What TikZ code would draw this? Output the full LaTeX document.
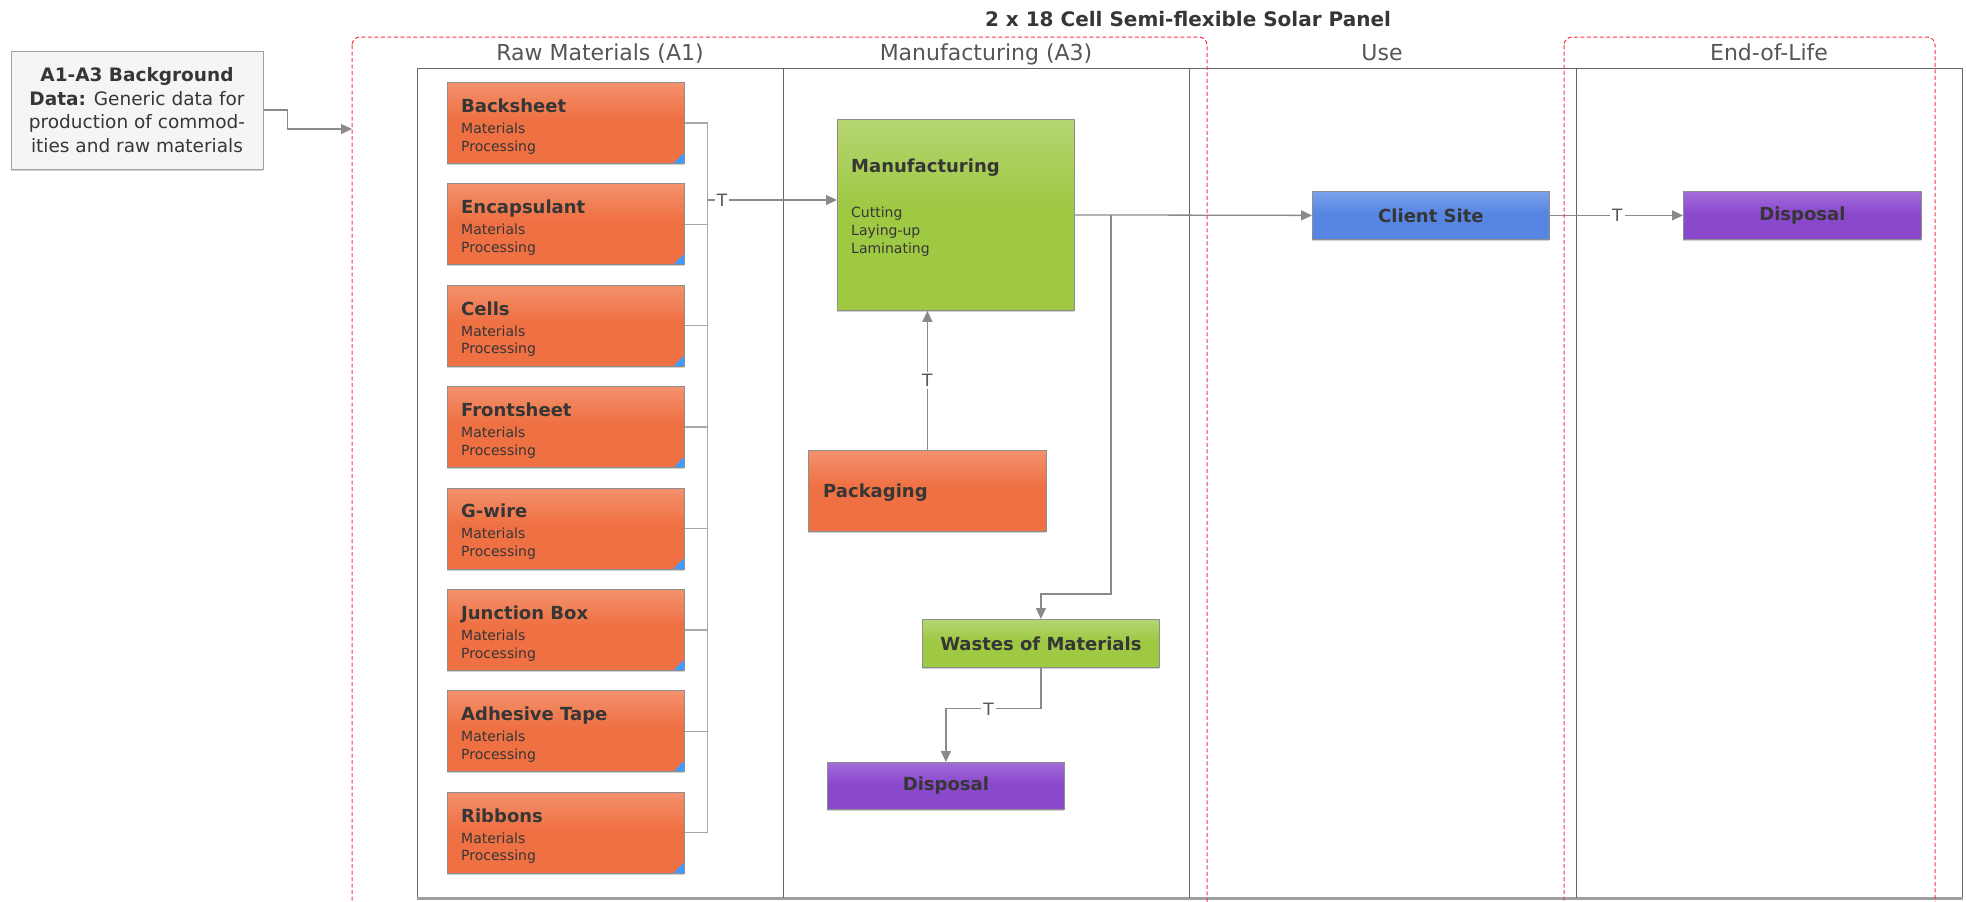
\documentclass[tikz,border=0pt]{standalone}
\usepackage{fontspec}
\setmainfont{DejaVu Sans}
\usetikzlibrary{arrows.meta,calc,shadows}
\newcommand\myfs[2]{\fontsize{#1}{#2}\selectfont}
\definecolor{textdark}{HTML}{363636}
\definecolor{lanegray}{HTML}{555555}
\definecolor{framecol}{HTML}{666666}
\definecolor{conncol}{HTML}{8A8A8A}
\definecolor{busgray}{HTML}{A8A8A8}
\definecolor{boxborder}{HTML}{8E8E8E}
\definecolor{orgmain}{HTML}{EF7042}
\definecolor{orglight}{HTML}{F7B59C}
\definecolor{grnmain}{HTML}{9FC843}
\definecolor{grnlight}{HTML}{CDE4A3}
\definecolor{blumain}{HTML}{5685E3}
\definecolor{blulight}{HTML}{A5C0F3}
\definecolor{purmain}{HTML}{8A48CD}
\definecolor{purlight}{HTML}{BE93E6}
\definecolor{cornerblue}{HTML}{3D9CFF}
\definecolor{reddash}{HTML}{FF3348}
\definecolor{bgfill}{HTML}{F5F5F5}
\definecolor{bgborder}{HTML}{A0A0A0}
\pgfdeclareverticalshading{orgshade}{100bp}{color(0bp)=(orgmain); color(52bp)=(orgmain); color(100bp)=(orglight)}
\pgfdeclareverticalshading{grnshade}{100bp}{color(0bp)=(grnmain); color(52bp)=(grnmain); color(100bp)=(grnlight)}
\pgfdeclareverticalshading{blushade}{100bp}{color(0bp)=(blumain); color(52bp)=(blumain); color(100bp)=(blulight)}
\pgfdeclareverticalshading{purshade}{100bp}{color(0bp)=(purmain); color(52bp)=(purmain); color(100bp)=(purlight)}
\tikzset{
  softshadow/.style={drop shadow={shadow xshift=0pt, shadow yshift=-1.6pt, fill=black, opacity=0.18}},
  gradbox/.style={anchor=north west, draw=boxborder, line width=0.8pt, shade, shading=#1, inner sep=0pt, softshadow},
  rawbox/.style={anchor=north west, minimum width=237pt, minimum height=81pt, draw=boxborder, line width=0.8pt, shade, shading=orgshade, inner sep=0pt, softshadow,
    path picture={\fill[cornerblue] (path picture bounding box.south east) -- ++(-11pt,0pt) -- ++(11pt,11pt) -- cycle;}},
  boxtitle/.style={font=\myfs{18}{22}\bfseries, text=textdark, inner sep=0pt},
  subtext/.style={font=\myfs{14}{18}, text=textdark, inner sep=0pt},
  lanelabel/.style={font=\myfs{22}{26}, text=lanegray, inner sep=0pt, anchor=base},
  framel/.style={draw=framecol, line width=1pt},
  reddashed/.style={draw=reddash, line width=1pt, dash pattern=on 4pt off 2.5pt, rounded corners=8pt},
  conn/.style={draw=conncol, line width=1.3pt},
  busline/.style={draw=busgray, line width=1.3pt},
  arr/.style={conn, -{Triangle[length=11pt,width=10pt]}},
  tlabel/.style={fill=white, text=lanegray, font=\myfs{17}{20}, inner sep=2pt},
  bgbox/.style={draw=bgborder, fill=bgfill, line width=1pt, minimum width=252pt, minimum height=118pt, align=center, font=\myfs{18.5}{23.5}, text=textdark, inner sep=0pt, softshadow}
}
\begin{document}
\begin{tikzpicture}[x=1pt,y=-1pt]
\useasboundingbox (0,0) rectangle (1966,902);
\clip (0,0) rectangle (1966,902);

% title
\node[font=\myfs{20}{24}\bfseries, text=textdark, inner sep=0pt, anchor=base] (title) at (1188,27) {2 x 18 Cell Semi-flexible Solar Panel};

% lanes
\draw[framel] (417,68) rectangle (1962,898);
\draw[draw=gray!75, line width=2.5pt] (417,898.5) -- (1963,898.5);
\foreach \x in {783,1189,1576} \draw[framel] (\x,68) -- (\x,898);
\node[lanelabel] (h1) at (600,60.5) {Raw Materials (A1)};
\node[lanelabel] (h2) at (986,60.5) {Manufacturing (A3)};
\node[lanelabel] (h3) at (1382,60.5) {Use};
\node[lanelabel] (h4) at (1769,60.5) {End-of-Life};

% background data box
\node[bgbox] (bg) at (137,110) {\textbf{A1-A3 Background}\\\textbf{Data:} Generic data for\\production of commod-\\ities and raw materials};
\coordinate (lcin) at (352,129);
\draw[arr] (bg.east) -- ++(24,0) |- (lcin);

% raw material boxes
\foreach \t [count=\i from 0] in {Backsheet, Encapsulant, Cells, Frontsheet, G-wire, Junction Box, Adhesive Tape, Ribbons} {
  \pgfmathsetmacro\yy{82+101.4*\i}
  \node[rawbox] (r\i) at (447,\yy) {};
  \node[boxtitle, anchor=base west] (r\i-t) at (461,\yy+30.3) {\t};
  \begin{scope}
    \clip (447,\yy) rectangle (684,\yy+72);
    \node[subtext, anchor=base west] (r\i-a) at (461,\yy+51.3) {Materials};
    \node[subtext, anchor=base west] (r\i-b) at (461,\yy+69) {Processing};
  \end{scope}
  \draw[busline] (r\i.east) -- ++(23,0);
}
\draw[busline] ($(r0.east)+(23,0)$) -- ($(r7.east)+(23,0)$);
\coordinate (busj) at (707,200);

% manufacturing lane
\node[gradbox=grnshade, minimum width=237pt, minimum height=191pt] (m) at (837,119) {};
\node[boxtitle, anchor=base west] (m-t) at (851,172.7) {Manufacturing};
\node[subtext, anchor=base west] (m-a) at (851,217.3) {Cutting};
\node[subtext, anchor=base west] (m-b) at (851,235.3) {Laying-up};
\node[subtext, anchor=base west] (m-c) at (851,253.3) {Laminating};

\node[gradbox=orgshade, minimum width=238pt, minimum height=81pt] (p) at (808,450) {};
\node[boxtitle, anchor=base west] (p-t) at (823,497.3) {Packaging};

\node[gradbox=grnshade, minimum width=237pt, minimum height=48pt, font=\myfs{18}{22}\bfseries, text=textdark] (w) at (922,619) {Wastes of Materials};
\node[gradbox=purshade, minimum width=237pt, minimum height=47pt, font=\myfs{18}{22}\bfseries, text=textdark] (d1) at (827,762) {Disposal};

% use / end-of-life
\node[gradbox=blushade, minimum width=237pt, minimum height=48pt, font=\myfs{18}{22}\bfseries, text=textdark] (cs) at (1312,191) {Client Site};
\node[gradbox=purshade, minimum width=238pt, minimum height=48pt, font=\myfs{18}{22}\bfseries, text=textdark] (d2) at (1683,191) {Disposal};

% connectors
\draw[arr] (busj) -- node[tlabel, pos=0.115] (t1) {T} (m.west |- busj);
\draw[arr] (p.north) -- node[tlabel, pos=0.5] (t2) {T} (p.north |- m.south);
\draw[arr] (m.east) -- (cs.west);
\coordinate (br) at (1111,214.5);
\draw[arr] (br) |- ($(w.north)+(0,-25)$) -- (w.north);
\draw[arr] (w.south) -- ++(0,41) -| node[tlabel, pos=0.276] (t3) {T} (d1.north);
\draw[arr] (cs.east) -- node[tlabel, pos=0.507] (t4) {T} (d2.west);

% red dashed groups
\draw[reddashed] (352,37) rectangle (1207,940);
\draw[reddashed] (1564,37) rectangle (1935,940);
\end{tikzpicture}
\end{document}
